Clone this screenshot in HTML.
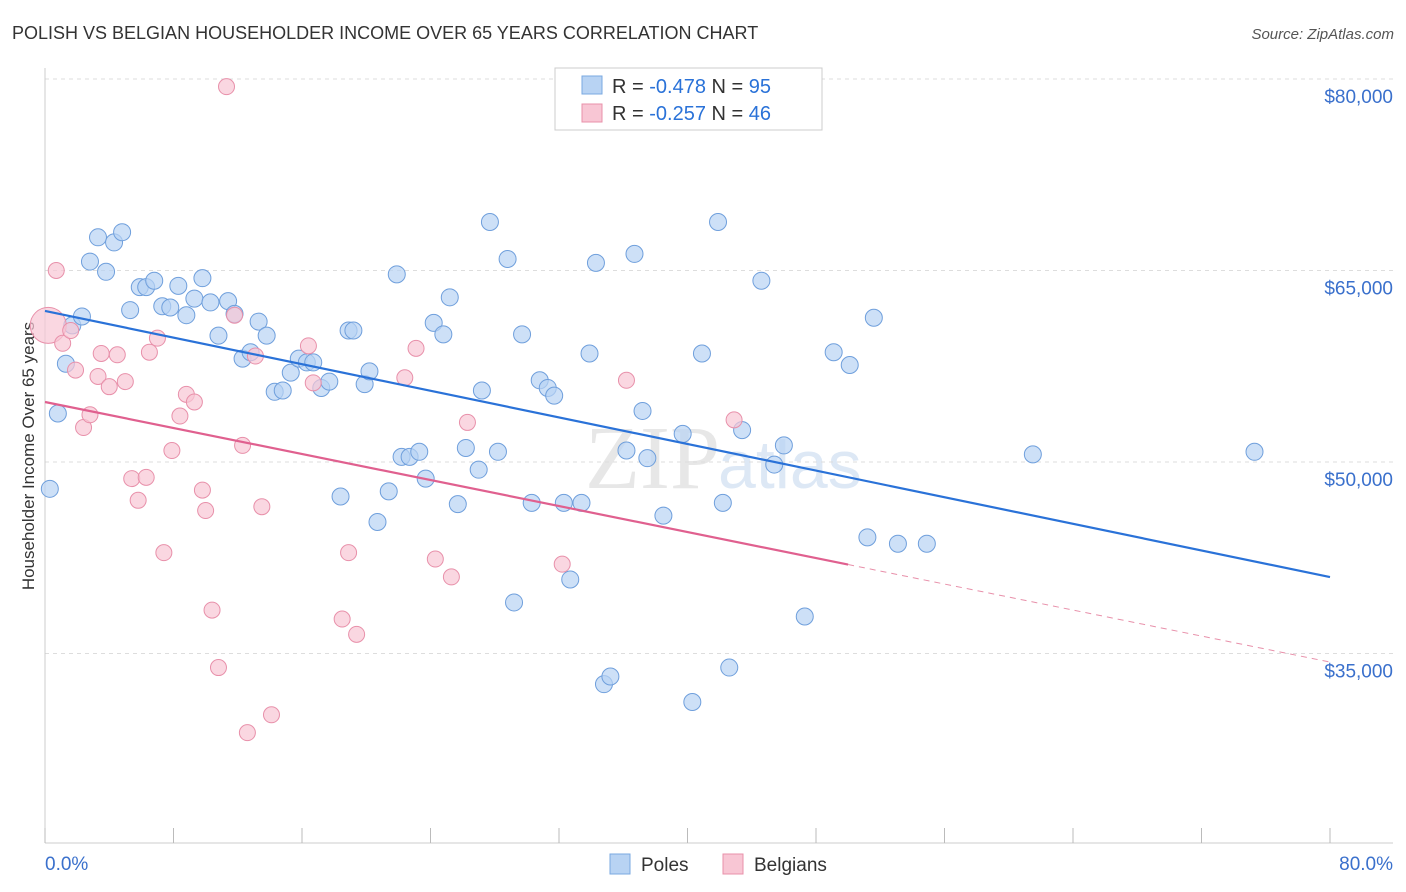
<!DOCTYPE html>
<html><head><meta charset="utf-8">
<style>
body{margin:0;background:#fff;font-family:"Liberation Sans",sans-serif;}
#wrap{position:relative;width:1406px;height:892px;overflow:hidden;}
</style></head>
<body>
<div id="wrap">
<svg id="chart" width="1406" height="892" xmlns="http://www.w3.org/2000/svg">
<text x="12" y="39" font-size="18" fill="#333">POLISH VS BELGIAN HOUSEHOLDER INCOME OVER 65 YEARS CORRELATION CHART</text>
<text x="1394" y="39" font-size="15" fill="#555" font-style="italic" text-anchor="end">Source: ZipAtlas.com</text>
<text x="0" y="0" transform="translate(34,456) rotate(-90)" font-size="17" fill="#333" text-anchor="middle">Householder Income Over 65 years</text>
<text x="720" y="488" font-size="90" fill="#d8d8d8" text-anchor="end" font-family="Liberation Serif" opacity="0.6">ZIP</text>
<text x="718" y="488" font-size="68" fill="#c8daf0" opacity="0.6">atlas</text>
<g id="grid"></g><g id="axes"></g><g id="pts"></g><g id="lines"></g>
<g>
<rect x="555" y="68" width="267" height="62" fill="#fff" stroke="#ccc"/>
<rect x="582" y="76" width="20" height="18" fill="#b8d3f3" stroke="#7aa8e0"/>
<rect x="582" y="104" width="20" height="18" fill="#f8c6d4" stroke="#e890aa"/>
<text x="612" y="93" font-size="20" fill="#333">R = <tspan fill="#2a72d8">-0.478</tspan>   N = <tspan fill="#2a72d8">95</tspan></text>
<text x="612" y="120" font-size="20" fill="#333">R = <tspan fill="#2a72d8">-0.257</tspan>   N = <tspan fill="#2a72d8">46</tspan></text>
</g>
<g>
<rect x="610" y="854" width="20" height="20" fill="#b8d3f3" stroke="#7aa8e0"/>
<text x="641" y="871" font-size="19" fill="#333">Poles</text>
<rect x="723" y="854" width="20" height="20" fill="#f8c6d4" stroke="#e890aa"/>
<text x="754" y="871" font-size="19" fill="#333">Belgians</text>
</g>
</svg>
</div>
<script>
const polesX=[0.3,0.8,1.3,1.7,2.3,2.8,3.3,3.8,4.3,4.8,5.3,5.9,6.3,6.8,7.3,7.8,8.3,8.8,9.3,9.8,10.3,10.8,11.4,11.8,12.3,12.8,13.3,13.8,14.3,14.8,15.3,15.8,16.3,16.7,17.2,17.7,18.4,18.9,19.2,19.9,20.2,20.7,21.4,21.9,22.2,22.7,23.3,23.7,24.2,24.8,25.2,25.7,26.2,27.0,27.2,27.7,28.2,28.8,29.2,29.7,30.3,30.8,31.3,31.7,32.3,32.7,33.4,33.9,34.3,34.8,35.2,36.2,36.7,37.2,37.5,38.5,39.7,40.3,40.9,41.9,42.2,42.6,43.4,44.6,45.4,46.0,47.3,49.1,50.1,51.2,51.6,53.1,54.9,61.5,75.3];
const polesY=[47.9,53.8,57.7,60.7,61.4,65.7,67.6,64.9,67.2,68.0,61.9,63.7,63.7,64.2,62.2,62.1,63.8,61.5,62.8,64.4,62.5,59.9,62.6,61.6,58.1,58.6,61.0,59.9,55.5,55.6,57.0,58.1,57.8,57.8,55.8,56.3,47.3,60.3,60.3,56.1,57.1,45.3,47.7,64.7,50.4,50.4,50.8,48.7,60.9,60.0,62.9,46.7,51.1,49.4,55.6,68.8,50.8,65.9,39.0,60.0,46.8,56.4,55.8,55.2,46.8,40.8,46.8,58.5,65.6,32.6,33.2,50.9,66.3,54.0,50.3,45.8,52.2,31.2,58.5,68.8,46.8,33.9,52.5,64.2,49.8,51.3,37.9,58.6,57.6,44.1,61.3,43.6,43.6,50.6,50.8];
const belgX=[0.2,0.7,1.1,1.6,1.9,2.4,2.8,3.3,3.5,4.0,4.5,5.0,5.4,5.8,6.3,6.5,7.0,7.4,7.9,8.4,8.8,9.3,9.8,10.0,10.4,10.8,11.3,11.8,12.3,12.6,13.1,13.5,14.1,16.4,16.7,18.5,18.9,19.4,22.4,23.1,24.3,25.3,26.3,32.2,36.2,42.9];
const belgY=[60.7,65.0,59.3,60.3,57.2,52.7,53.7,56.7,58.5,55.9,58.4,56.3,48.7,47.0,48.8,58.6,59.7,42.9,50.9,53.6,55.3,54.7,47.8,46.2,38.4,33.9,79.4,61.5,51.3,28.8,58.3,46.5,30.2,59.1,56.2,37.7,42.9,36.5,56.6,58.9,42.4,41.0,53.1,42.0,56.4,53.3];
const yTicks=[80000,65000,50000,35000];
const yTickLabels=["$80,000","$65,000","$50,000","$35,000"];
const xTickLabels=["0.0%","80.0%"];
const polesTrend=[61.83,40.99]; // at x=0 and x=80 (thousands)
const belgTrend=[54.70,34.33];
const belgSolidEnd=50;

const NS="http://www.w3.org/2000/svg";
const sx=v=>45+v*(1285/80);
const sy=v=>79+(80-v)*12.767; // v in thousands
function mk(t,a,p){const e=document.createElementNS(NS,t);for(const k in a)e.setAttribute(k,a[k]);document.getElementById(p).appendChild(e);return e;}

yTicks.forEach((t,i)=>{
  const y=sy(t/1000);
  const g=mk('line',{x1:45,x2:1393,y1:y,y2:y,stroke:'#ddd','stroke-dasharray':'4,4'},'grid');
  
  
  const l=mk('text',{x:1393,y:y+24,'font-size':19,fill:'#3a70cc','text-anchor':'end'},'axes');
  l.textContent=yTickLabels[i];
  
  
});
const ax=mk('line',{x1:45,x2:1393,y1:843,y2:843,stroke:'#ccc'},'axes');


const ay=mk('line',{x1:45,x2:45,y1:68,y2:843,stroke:'#ccc'},'axes');


for(let i=0;i<=10;i++){
  const x=sx(i*8);
  const t=mk('line',{x1:x,x2:x,y1:828,y2:843,stroke:'#bbb'},'axes');
  
  
}
[[0,'start',45],[80,'end',1393]].forEach((d,i)=>{
  const l=mk('text',{x:d[2],y:870,'font-size':19,fill:'#3a70cc','text-anchor':d[1]},'axes');
  l.textContent=xTickLabels[i];
  
  
});

polesX.forEach((x,i)=>{
  const c=mk('circle',{cx:sx(x),cy:sy(polesY[i]),r:8.5,fill:'#b8d3f3','fill-opacity':0.7,stroke:'#6f9fdc','stroke-width':1},'pts');
  
  
});
belgX.forEach((x,i)=>{
  const c=mk('circle',{cx:sx(x),cy:sy(belgY[i]),r:i===0?18:8,fill:'#f8c6d4','fill-opacity':0.7,stroke:'#e890aa','stroke-width':1},'pts');
  
  
});
const bl=mk('line',{x1:sx(0),y1:sy(polesTrend[0]),x2:sx(80),y2:sy(polesTrend[1]),stroke:'#2a72d8','stroke-width':2.2},'lines');


const pAt=x=>belgTrend[0]+(belgTrend[1]-belgTrend[0])*x/80;
const pl=mk('line',{x1:sx(0),y1:sy(pAt(0)),x2:sx(belgSolidEnd),y2:sy(pAt(belgSolidEnd)),stroke:'#e0608f','stroke-width':2.2},'lines');


const pd=mk('line',{x1:sx(belgSolidEnd),y1:sy(pAt(belgSolidEnd)),x2:sx(80),y2:sy(pAt(80)),stroke:'#e890aa','stroke-width':1,'stroke-dasharray':'6,5'},'lines');


</script>
</body></html>
